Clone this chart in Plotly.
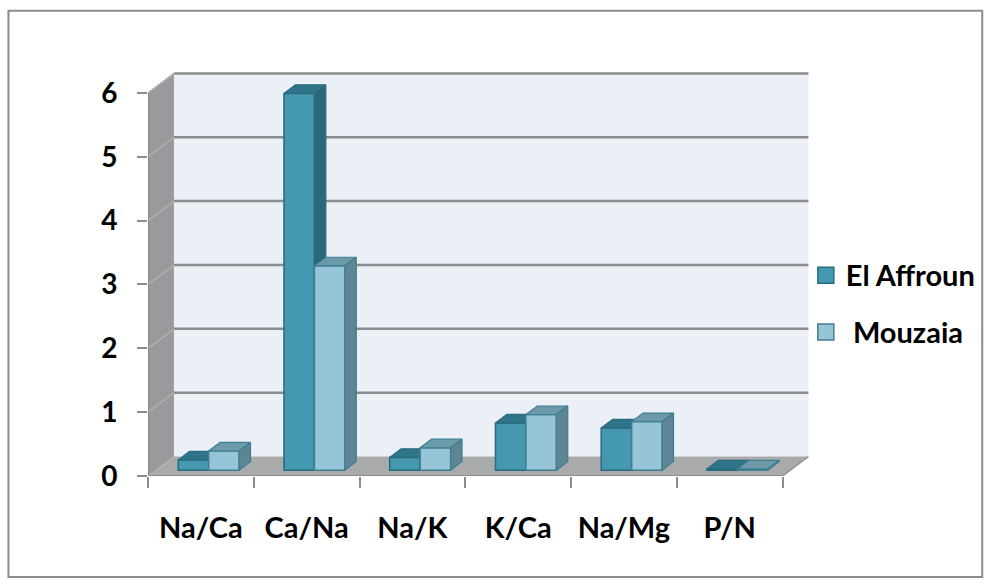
import plotly.graph_objects as go

# ---- data -------------------------------------------------------------
categories = ["Na/Ca", "Ca/Na", "Na/K", "K/Ca", "Na/Mg", "P/N"]
el_affroun = [0.16, 5.9, 0.2, 0.74, 0.66, 0.02]
mouzaia = [0.3, 3.2, 0.35, 0.87, 0.76, 0.02]
y_ticks = [0, 1, 2, 3, 4, 5, 6]
series_names = ["El Affroun", "\u00a0Mouzaia"]

# ---- geometry of the pseudo-3D frame ---------------------------------
W, H = 992, 586
X0_PX = 148.0      # left edge of the front plane
CAT_PX = 106.1     # width of one category slot
Y0_PX = 476.0      # value 0 on the front plane
UNIT_PX = 63.8     # pixels per value unit

DEPTH_X = 26.0 / CAT_PX    # oblique depth of the walls (data units)
DEPTH_Y = 19.5 / UNIT_PX
BAR_D0 = 0.30              # depth of the bar fronts, fraction of wall depth
BAR_DEPTH = 0.44           # depth of a bar, fraction of wall depth
BAR_W = 0.288
BAR_OFF = [-0.144, 0.144]

n = len(categories)
x_lo, x_hi = -0.5, n - 0.5 + DEPTH_X + 0.1
y_lo, y_hi = 0.0, 6.5

plot_w = (x_hi - x_lo) * CAT_PX
plot_h = (y_hi - y_lo) * UNIT_PX
m_l = X0_PX
m_r = W - m_l - plot_w
m_b = H - Y0_PX
m_t = Y0_PX - plot_h


def px_to_paper(px, py):
    return (px - m_l) / plot_w, (Y0_PX - py) / plot_h


FONT = "Lato"
GRID = "#8c8c8c"

styles = [
    dict(front="#4499b0", top="#2f7489", side="#2b687c", edge="#2a6b7f"),
    dict(front="#95c5d7", top="#6c9aa9", side="#5d8593", edge="#3f7f92"),
]

fig = go.Figure()

sx, sy = BAR_D0 * DEPTH_X, BAR_D0 * DEPTH_Y
bdx, bdy = BAR_DEPTH * DEPTH_X, BAR_DEPTH * DEPTH_Y

for s, (name, vals) in enumerate(zip(series_names, [el_affroun, mouzaia])):
    st = styles[s]
    xa = "x" if s == 0 else "x2"
    ya = "y" if s == 0 else "y2"
    centers = [i + BAR_OFF[s] + sx for i in range(n)]
    fig.add_trace(go.Bar(
        x=centers, y=vals, base=[sy] * n, width=BAR_W, name=name,
        marker=dict(color=st["front"], line=dict(color=st["edge"], width=1.5)),
        xaxis=xa, yaxis=ya, showlegend=False, hoverinfo="skip",
    ))
    tx, ty, kx, ky = [], [], [], []
    for c, v in zip(centers, vals):
        xl, xr = c - BAR_W / 2, c + BAR_W / 2
        yb, yt = sy, sy + v
        tx += [xl, xr, xr + bdx, xl + bdx, xl, None]
        ty += [yt, yt, yt + bdy, yt + bdy, yt, None]
        kx += [xr, xr, xr + bdx, xr + bdx, xr, None]
        ky += [yb, yt, yt + bdy, yb + bdy, yb, None]
    for fx, fy, col in [(tx, ty, st["top"]), (kx, ky, st["side"])]:
        fig.add_trace(go.Scatter(
            x=fx, y=fy, mode="lines", fill="toself", fillcolor=col,
            line=dict(color=st["edge"], width=1.2), showlegend=False,
            xaxis=xa, yaxis=ya, hoverinfo="skip",
        ))
    # legend key: a square swatch per series
    fig.add_trace(go.Scatter(
        x=[None], y=[None], mode="markers", name=name, legendgroup=name,
        marker=dict(symbol="square", size=16, color=st["front"],
                    line=dict(color=st["edge"], width=1.5)),
        xaxis=xa, yaxis=ya,
    ))

# ---- walls, floor and gridlines --------------------------------------
shapes = []
L, R = -0.5, n - 0.5
top = max(y_ticks)


def poly(pts, fill, line_col=None, lw=0):
    path = "M " + " L ".join(f"{x},{y}" for x, y in pts) + " Z"
    return dict(type="path", path=path, xref="x", yref="y", layer="below",
                fillcolor=fill, line=dict(color=line_col or fill, width=lw))


def seg(x0, y0, x1, y1, col, w):
    return dict(type="line", x0=x0, y0=y0, x1=x1, y1=y1, xref="x", yref="y",
                layer="below", line=dict(color=col, width=w))


shapes.append(poly([(L + DEPTH_X, DEPTH_Y), (R + DEPTH_X, DEPTH_Y),
                    (R + DEPTH_X, top + DEPTH_Y), (L + DEPTH_X, top + DEPTH_Y)],
                   "#eaf0f6"))
shapes.append(poly([(L, 0), (L + DEPTH_X, DEPTH_Y), (L + DEPTH_X, top + DEPTH_Y),
                    (L, top)], "#999a9c"))
shapes.append(poly([(L, 0), (R, 0), (R + DEPTH_X, DEPTH_Y), (L + DEPTH_X, DEPTH_Y)],
                   "#a9aaac"))
for v in y_ticks[1:]:
    shapes.append(seg(L + DEPTH_X, v + DEPTH_Y, R + DEPTH_X, v + DEPTH_Y, GRID, 2.5))
    shapes.append(seg(L, v, L + DEPTH_X, v + DEPTH_Y, "#aeafb1", 1.5))
shapes.append(seg(L, 0, L, top, GRID, 2))
shapes.append(seg(L, 0, R, 0, GRID, 2))
shapes.append(seg(R, 0, R + DEPTH_X, DEPTH_Y, GRID, 1.5))

bx0, by0 = px_to_paper(8, 11)
bx1, by1 = px_to_paper(985, 577)
shapes.append(dict(type="rect", xref="paper", yref="paper", x0=bx0, y0=by1,
                   x1=bx1, y1=by0, line=dict(color=GRID, width=2), layer="below"))

lx, ly = px_to_paper(808, 250)

fig.update_layout(
    width=W, height=H,
    margin=dict(l=m_l, r=m_r, t=m_t, b=m_b, pad=0),
    paper_bgcolor="white", plot_bgcolor="rgba(0,0,0,0)",
    barmode="overlay", shapes=shapes,
    showlegend=True,
    legend=dict(x=lx, y=ly, xanchor="left", yanchor="top", itemsizing="trace",
                font=dict(family=FONT, size=29, color="black", weight="bold"),
                tracegroupgap=16, bgcolor="rgba(0,0,0,0)"),
    xaxis=dict(range=[x_lo, x_hi], tickmode="array", tickvals=list(range(n)),
               ticktext=categories, ticks="", showgrid=False, zeroline=False,
               showline=False, ticklabelstandoff=32,
               tickfont=dict(family=FONT, size=29, color="black", weight="bold"),
               minor=dict(tickmode="array", tickvals=[L + k for k in range(n + 1)],
                          ticks="outside", ticklen=11, tickwidth=2,
                          tickcolor=GRID, showgrid=False)),
    yaxis=dict(range=[y_lo, y_hi], tickmode="array", tickvals=y_ticks,
               ticks="outside", ticklen=10, tickwidth=2, tickcolor=GRID,
               showgrid=False, zeroline=False, showline=False,
               ticklabelstandoff=14,
               tickfont=dict(family=FONT, size=28, color="black", weight="bold")),
    xaxis2=dict(range=[x_lo, x_hi], overlaying="x", visible=False),
    yaxis2=dict(range=[y_lo, y_hi], overlaying="y", visible=False),
)

fig.write_html("out.html")
